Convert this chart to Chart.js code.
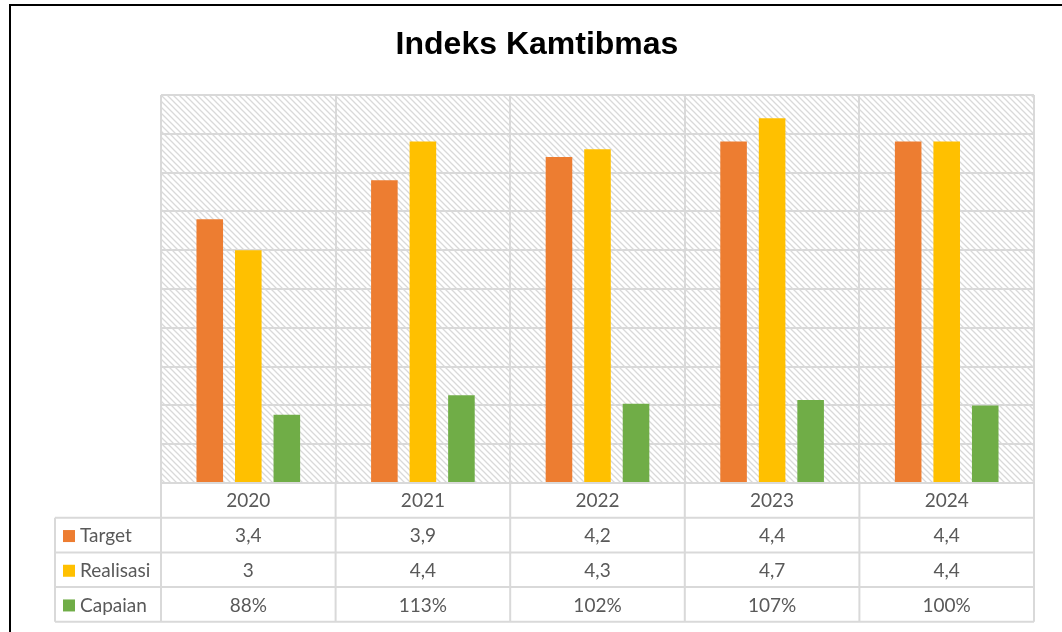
<!DOCTYPE html>
<html>
<head>
<meta charset="utf-8">
<script src="https://cdn.jsdelivr.net/npm/chart.js@4.4.1/dist/chart.umd.min.js"></script>
<style>
  html, body { margin: 0; padding: 0; background: #fff; }
  #wrap { position: relative; width: 1062px; height: 632px; overflow: hidden; }
  #frame { position: absolute; left: 9px; top: 4px; width: 1200px; height: 800px; border: 2px solid #000; box-sizing: border-box; pointer-events: none; }
  canvas { position: absolute; left: 0; top: 0; }
</style>
</head>
<body>
<div id="wrap">
  <canvas id="c" width="1062" height="632"></canvas>
  <div id="frame"></div>
</div>
<script>
const categories = ["2020", "2021", "2022", "2023", "2024"];
const targetValues = [3.4, 3.9, 4.2, 4.4, 4.4];
const realisasiValues = [3.0, 4.4, 4.3, 4.7, 4.4];
const capaianValues = [0.88, 1.13, 1.02, 1.07, 1.00];
const targetLabels = ["3,4", "3,9", "4,2", "4,4", "4,4"];
const realisasiLabels = ["3", "4,4", "4,3", "4,7", "4,4"];
const capaianLabels = ["88%", "113%", "102%", "107%", "100%"];
const seriesNames = ["Target", "Realisasi", "Capaian"];
const seriesColors = ["#ED7D31", "#FFC000", "#70AD47"];

function makePattern(ctx) {
  const p = document.createElement('canvas');
  p.width = 6; p.height = 6;
  const g = p.getContext('2d');
  g.fillStyle = '#ffffff';
  g.fillRect(0, 0, 6, 6);
  g.strokeStyle = '#d9d9d9';
  g.lineWidth = 1.3;
  g.beginPath();
  g.moveTo(0, 0); g.lineTo(6, 6);
  g.moveTo(-3, 3); g.lineTo(3, 9);
  g.moveTo(3, -3); g.lineTo(9, 3);
  g.stroke();
  return ctx.createPattern(p, 'repeat');
}

const bgPlugin = {
  id: 'hatchBg',
  beforeDraw(chart) {
    const { ctx, chartArea: a } = chart;
    ctx.save();
    ctx.fillStyle = makePattern(ctx);
    ctx.fillRect(a.left, a.top, a.right - a.left, a.bottom - a.top);
    ctx.restore();
  }
};

const tablePlugin = {
  id: 'dataTable',
  afterDraw(chart) {
    const { ctx, chartArea: a, scales } = chart;
    const xs = scales.x;
    const rowH = 34.7;
    const tableLeft = 55;
    const top = a.bottom;
    const bottom = top + rowH * 4;
    const catW = (a.right - a.left) / categories.length;
    ctx.save();
    ctx.strokeStyle = '#d9d9d9';
    ctx.lineWidth = 2;
    ctx.beginPath();
    for (let r = 1; r <= 4; r++) {
      const y = top + rowH * r;
      ctx.moveTo(tableLeft, y); ctx.lineTo(a.right, y);
    }
    for (let i = 0; i <= categories.length; i++) {
      const x = a.left + catW * i;
      ctx.moveTo(x, top); ctx.lineTo(x, bottom);
    }
    ctx.moveTo(tableLeft, top + rowH); ctx.lineTo(tableLeft, bottom);
    ctx.stroke();

    ctx.fillStyle = '#595959';
    ctx.font = '19px Lato, "Open Sans", sans-serif';
    ctx.textAlign = 'center';
    ctx.textBaseline = 'middle';
    const rows = [categories, targetLabels, realisasiLabels, capaianLabels];
    rows.forEach((row, r) => {
      const y = top + rowH * r + rowH / 2 + 1;
      row.forEach((t, i) => {
        ctx.fillText(t, xs.getPixelForValue(i), y);
      });
    });
    ctx.textAlign = 'left';
    seriesNames.forEach((n, k) => {
      const y = top + rowH * (k + 1) + rowH / 2 + 1;
      ctx.fillStyle = seriesColors[k];
      ctx.fillRect(63, y - 6, 12, 12);
      ctx.fillStyle = '#595959';
      ctx.fillText(n, 80, y);
    });
    ctx.restore();
  }
};

new Chart(document.getElementById('c'), {
  type: 'bar',
  data: {
    labels: categories,
    datasets: [
      { label: seriesNames[0], data: targetValues, backgroundColor: seriesColors[0] },
      { label: seriesNames[1], data: realisasiValues, backgroundColor: seriesColors[1] },
      { label: seriesNames[2], data: capaianValues, backgroundColor: seriesColors[2] }
    ]
  },
  options: {
    responsive: false,
    animation: false,
    devicePixelRatio: 1,
    layout: { padding: { left: 161, top: 95, right: 28, bottom: 149 } },
    datasets: { bar: { categoryPercentage: 0.662, barPercentage: 0.69 } },
    plugins: {
      legend: { display: false },
      tooltip: { enabled: false },
      title: { display: false }
    },
    scales: {
      x: {
        offset: true,
        ticks: { display: false },
        grid: { display: true, color: '#d9d9d9', lineWidth: 2, drawTicks: false, offset: true },
        border: { display: true, color: '#d9d9d9', width: 2 }
      },
      y: {
        min: 0, max: 5,
        ticks: { display: false, stepSize: 0.5 },
        grid: { color: '#d9d9d9', lineWidth: 2, drawTicks: false },
        border: { display: false }
      }
    }
  },
  plugins: [bgPlugin, tablePlugin, {
    id: 'titleText',
    afterDraw(chart) {
      const ctx = chart.ctx;
      ctx.save();
      ctx.fillStyle = '#000';
      ctx.font = 'bold 32px "Liberation Sans", Arial, sans-serif';
      ctx.textAlign = 'center';
      ctx.textBaseline = 'middle';
      ctx.fillText('Indeks Kamtibmas', 537, 45);
      ctx.restore();
    }
  }]
});
</script>
</body>
</html>
